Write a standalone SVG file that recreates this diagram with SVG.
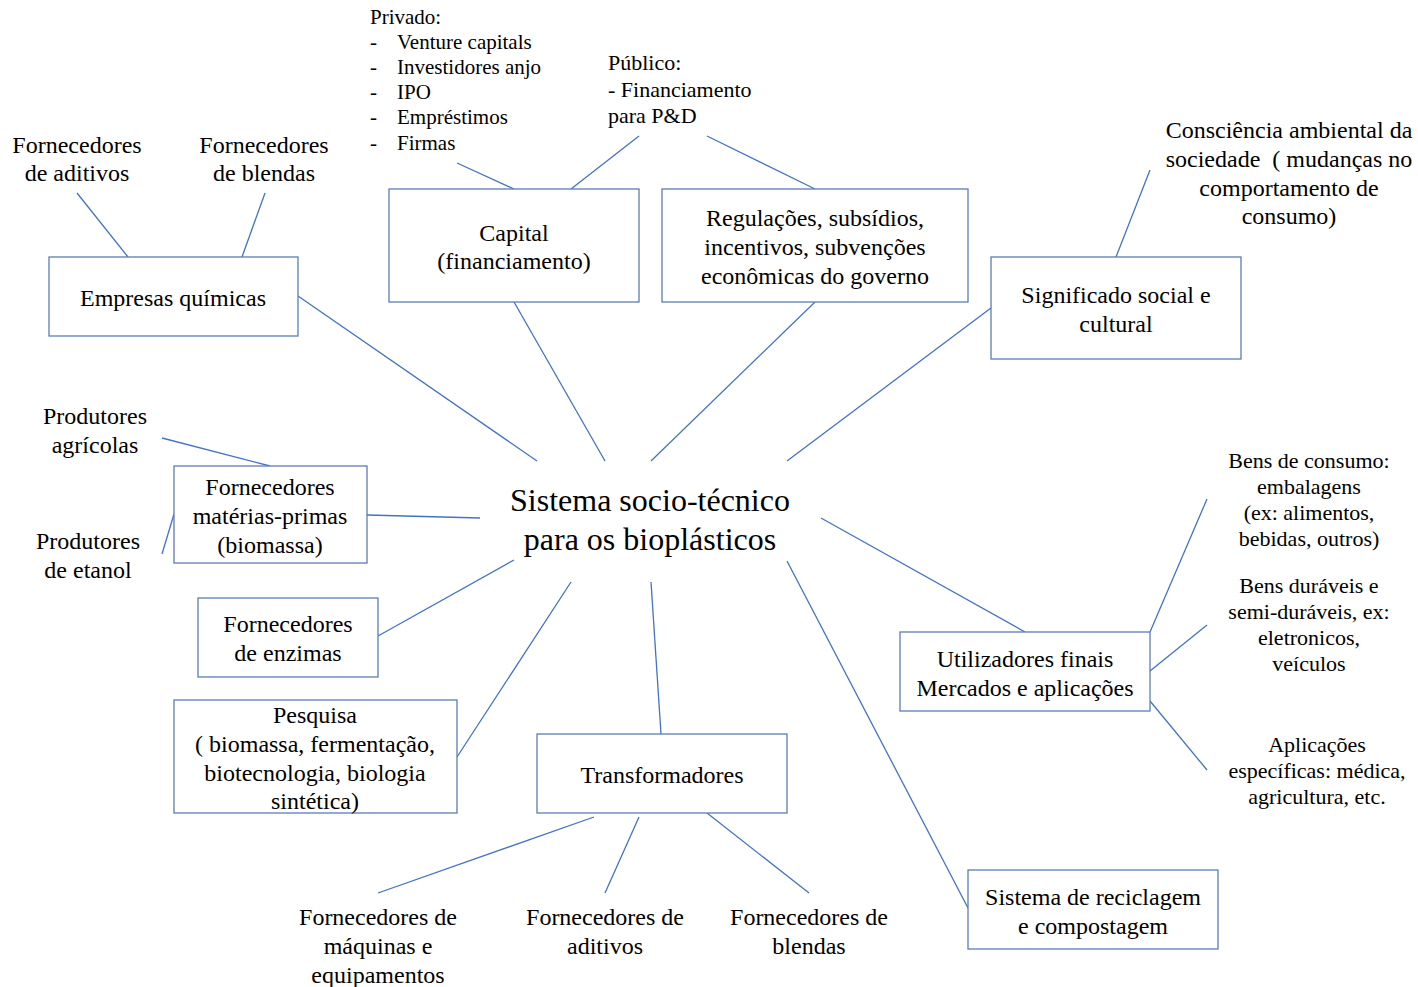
<svg xmlns="http://www.w3.org/2000/svg" width="1418" height="987" viewBox="0 0 1418 987" font-family="'Liberation Serif', 'DejaVu Serif', serif">
  <style>
    text { font-family: "Liberation Serif", "DejaVu Serif", serif; fill: #000; }
    .t { font-size: 24px; text-anchor: middle; }
    .s { font-size: 22px; text-anchor: middle; }
    .l { font-size: 21px; }
    .p { font-size: 22px; }
    .title { font-size: 32px; text-anchor: middle; }
    .box { fill: #fff; stroke: #5b7db5; stroke-width: 1.3; }
    .edge { stroke: #4472c4; stroke-width: 1.3; fill: none; }
  </style>
  <rect width="1418" height="987" fill="#fff"/>

  <g id="connectors">
    <line class="edge" x1="77" y1="193" x2="128" y2="257"/>
    <line class="edge" x1="265" y1="193" x2="242" y2="257"/>
    <line class="edge" x1="298" y1="296" x2="537" y2="461"/>
    <line class="edge" x1="457" y1="163" x2="514" y2="189"/>
    <line class="edge" x1="639" y1="136" x2="571" y2="189"/>
    <line class="edge" x1="707" y1="136" x2="815" y2="189"/>
    <line class="edge" x1="514" y1="302" x2="605" y2="461"/>
    <line class="edge" x1="815" y1="302" x2="651" y2="461"/>
    <line class="edge" x1="991" y1="308" x2="787" y2="461"/>
    <line class="edge" x1="1150" y1="170" x2="1116" y2="257"/>
    <line class="edge" x1="162" y1="438" x2="270" y2="466"/>
    <line class="edge" x1="174" y1="514" x2="162" y2="554"/>
    <line class="edge" x1="367" y1="515" x2="480" y2="518"/>
    <line class="edge" x1="378" y1="636" x2="514" y2="560"/>
    <line class="edge" x1="457" y1="757" x2="571" y2="582"/>
    <line class="edge" x1="651" y1="582" x2="661" y2="734"/>
    <line class="edge" x1="821" y1="518" x2="1025" y2="632"/>
    <line class="edge" x1="787" y1="561" x2="968" y2="908"/>
    <line class="edge" x1="1207" y1="499" x2="1150" y2="632"/>
    <line class="edge" x1="1207" y1="625" x2="1150" y2="671"/>
    <line class="edge" x1="1150" y1="701" x2="1207" y2="770"/>
    <line class="edge" x1="594" y1="817" x2="378" y2="893"/>
    <line class="edge" x1="639" y1="817" x2="605" y2="893"/>
    <line class="edge" x1="707" y1="813" x2="809" y2="893"/>
  </g>

  <!-- central label -->
  <g id="center">
    <text class="title" x="650" y="511">Sistema socio-técnico</text>
    <text class="title" x="650" y="550">para os bioplásticos</text>
  </g>

  <!-- boxed nodes -->
  <g id="empresas">
    <rect class="box" x="49" y="257" width="249" height="79"/>
    <text class="t" x="173" y="306">Empresas químicas</text>
  </g>
  <g id="capital">
    <rect class="box" x="389" y="189" width="250" height="113"/>
    <text class="t" x="514" y="241">Capital</text>
    <text class="t" x="514" y="269">(financiamento)</text>
  </g>
  <g id="regulacoes">
    <rect class="box" x="662" y="189" width="306" height="113"/>
    <text class="t" x="815" y="226">Regulações, subsídios,</text>
    <text class="t" x="815" y="255">incentivos, subvenções</text>
    <text class="t" x="815" y="284">econômicas do governo</text>
  </g>
  <g id="significado">
    <rect class="box" x="991" y="257" width="250" height="102"/>
    <text class="t" x="1116" y="303">Significado social e</text>
    <text class="t" x="1116" y="332">cultural</text>
  </g>
  <g id="materias-primas">
    <rect class="box" x="174" y="466" width="193" height="97"/>
    <text class="t" x="270" y="495">Fornecedores</text>
    <text class="t" x="270" y="524">matérias-primas</text>
    <text class="t" x="270" y="553">(biomassa)</text>
  </g>
  <g id="enzimas">
    <rect class="box" x="198" y="598" width="180" height="79"/>
    <text class="t" x="288" y="632">Fornecedores</text>
    <text class="t" x="288" y="661">de enzimas</text>
  </g>
  <g id="pesquisa">
    <rect class="box" x="174" y="700" width="283" height="113"/>
    <text class="t" x="315" y="723">Pesquisa</text>
    <text class="t" x="315" y="752">( biomassa, fermentação,</text>
    <text class="t" x="315" y="781">biotecnologia, biologia</text>
    <text class="t" x="315" y="809">sintética)</text>
  </g>
  <g id="transformadores">
    <rect class="box" x="537" y="734" width="250" height="79"/>
    <text class="t" x="662" y="783">Transformadores</text>
  </g>
  <g id="utilizadores">
    <rect class="box" x="900" y="632" width="250" height="79"/>
    <text class="t" x="1025" y="667">Utilizadores finais</text>
    <text class="t" x="1025" y="696">Mercados e aplicações</text>
  </g>
  <g id="reciclagem">
    <rect class="box" x="968" y="870" width="250" height="79"/>
    <text class="t" x="1093" y="905">Sistema de reciclagem</text>
    <text class="t" x="1093" y="934">e compostagem</text>
  </g>

  <!-- free labels -->
  <g id="forn-aditivos-top">
    <text class="t" x="77" y="153">Fornecedores</text>
    <text class="t" x="77" y="181">de aditivos</text>
  </g>
  <g id="forn-blendas-top">
    <text class="t" x="264" y="153">Fornecedores</text>
    <text class="t" x="264" y="181">de blendas</text>
  </g>
  <g id="privado">
    <text class="l" x="370" y="24">Privado:</text>
    <text class="l" x="370" y="49">-</text><text class="l" x="397" y="49">Venture capitals</text>
    <text class="l" x="370" y="74">-</text><text class="l" x="397" y="74">Investidores anjo</text>
    <text class="l" x="370" y="99">-</text><text class="l" x="397" y="99">IPO</text>
    <text class="l" x="370" y="124">-</text><text class="l" x="397" y="124">Empréstimos</text>
    <text class="l" x="370" y="150">-</text><text class="l" x="397" y="150">Firmas</text>
  </g>
  <g id="publico">
    <text class="p" x="608" y="70">Público:</text>
    <text class="p" x="608" y="97">- Financiamento</text>
    <text class="p" x="608" y="123">para P&amp;D</text>
  </g>
  <g id="consciencia">
    <text class="t" x="1289" y="138">Consciência ambiental da</text>
    <text class="t" x="1289" y="167">sociedade&#160; ( mudanças no</text>
    <text class="t" x="1289" y="196">comportamento de</text>
    <text class="t" x="1289" y="224">consumo)</text>
  </g>
  <g id="agricolas">
    <text class="t" x="95" y="424">Produtores</text>
    <text class="t" x="95" y="453">agrícolas</text>
  </g>
  <g id="etanol">
    <text class="t" x="88" y="549">Produtores</text>
    <text class="t" x="88" y="578">de etanol</text>
  </g>
  <g id="bens-consumo">
    <text class="s" x="1309" y="468">Bens de consumo:</text>
    <text class="s" x="1309" y="494">embalagens</text>
    <text class="s" x="1309" y="520">(ex: alimentos,</text>
    <text class="s" x="1309" y="546">bebidas, outros)</text>
  </g>
  <g id="bens-duraveis">
    <text class="s" x="1309" y="593">Bens duráveis e</text>
    <text class="s" x="1309" y="619">semi-duráveis, ex:</text>
    <text class="s" x="1309" y="645">eletronicos,</text>
    <text class="s" x="1309" y="671">veículos</text>
  </g>
  <g id="aplicacoes">
    <text class="s" x="1317" y="752">Aplicações</text>
    <text class="s" x="1317" y="778">específicas: médica,</text>
    <text class="s" x="1317" y="804">agricultura, etc.</text>
  </g>
  <g id="forn-maquinas">
    <text class="t" x="378" y="925">Fornecedores de</text>
    <text class="t" x="378" y="954">máquinas e</text>
    <text class="t" x="378" y="983">equipamentos</text>
  </g>
  <g id="forn-aditivos-bottom">
    <text class="t" x="605" y="925">Fornecedores de</text>
    <text class="t" x="605" y="954">aditivos</text>
  </g>
  <g id="forn-blendas-bottom">
    <text class="t" x="809" y="925">Fornecedores de</text>
    <text class="t" x="809" y="954">blendas</text>
  </g>
</svg>
